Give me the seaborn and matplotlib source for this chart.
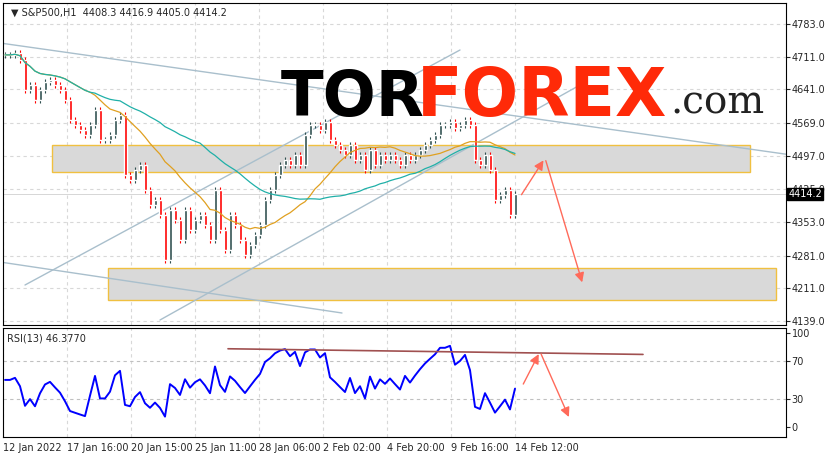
import numpy as np
import pandas as pd
import matplotlib
matplotlib.use("Agg")
import matplotlib.pyplot as plt
import seaborn as sns

closes = [4716, 4716, 4720, 4705, 4640, 4651, 4618, 4640, 4657, 4662, 4651, 4640, 4618,
          4575, 4564, 4553, 4542, 4564, 4597, 4531, 4531, 4542, 4575, 4586, 4456, 4445,
          4466, 4477, 4423, 4391, 4401, 4369, 4271, 4380, 4358, 4315, 4380, 4336, 4358,
          4369, 4347, 4315, 4423, 4336, 4293, 4369, 4347, 4315, 4282, 4304, 4326, 4347,
          4401, 4423, 4456, 4477, 4488, 4477, 4499, 4477, 4542, 4564, 4564, 4553, 4571,
          4531, 4521, 4510, 4499, 4521, 4488, 4499, 4466, 4510, 4477, 4499, 4488, 4499,
          4488, 4477, 4499, 4488, 4499, 4510, 4521, 4531, 4542, 4564, 4564, 4571, 4558,
          4564, 4575, 4564, 4488, 4477, 4499, 4466, 4401, 4412, 4423, 4369, 4414]
opens = [closes[0]] + closes[:-1]
price_ticks = [4783.0, 4711.0, 4641.0, 4569.0, 4497.0, 4425.0, 4353.0, 4281.0, 4211.0, 4139.0]
x_labels = ["12 Jan 2022", "17 Jan 16:00", "20 Jan 15:00", "25 Jan 11:00", "28 Jan 06:00",
            "2 Feb 02:00", "4 Feb 20:00", "9 Feb 16:00", "14 Feb 12:00"]
upper_zone = (4462, 4521)
lower_zone = (4185, 4254)

W, H = 827, 455
sns.set_style("white")
plt.rcParams['font.family'] = ['DejaVu Sans']
fig = plt.figure(figsize=(W/100, H/100), dpi=100)

def px2i(px):
    return (px - 5) / 5.0

def py2p(py):
    return 4783 - (py - 24) * 2.168

ax = fig.add_axes([3/W, 1-325/H, 783/W, 322/H])
ax2 = fig.add_axes([3/W, 1-437/H, 783/W, 109/H])

df = pd.DataFrame({"i": np.arange(len(closes)), "open": opens, "close": closes})
df["ma_fast"] = df["close"].rolling(18, min_periods=1).mean()
df["ma_slow"] = df["close"].rolling(40, min_periods=1).mean()
d = df["close"].diff().fillna(0)
n = 5  # 13 hourly bars ~ 5 sampled bars
gu = d.clip(lower=0).copy(); gd = (-d.clip(upper=0)).copy()
seed = d.abs().mean() / 2
gu.iloc[0] = seed; gd.iloc[0] = seed
up = gu.ewm(alpha=1/n, adjust=False).mean()
dn = gd.ewm(alpha=1/n, adjust=False).mean()
df["rsi"] = 100 * up / (up + dn)

xmin, xmax = px2i(3), px2i(786)
tick_px = [3 + 64*k for k in range(len(x_labels))]
for a in (ax, ax2):
    a.set_xlim(xmin, xmax)
    for tp in tick_px:
        a.axvline(px2i(tp), color="#d8d8d8", ls=(0, (3, 3)), lw=0.8, zorder=0)
    for s in a.spines.values():
        s.set_color("black"); s.set_linewidth(0.8)
ax.set_ylim(py2p(325), py2p(3))
for t in price_ticks:
    ax.axhline(t, color="#d8d8d8", ls=(0, (3, 3)), lw=0.8, zorder=0)

for (lo, hi), (x0, x1) in [(upper_zone, (52, 750)), (lower_zone, (108, 776))]:
    ax.add_patch(plt.Rectangle((px2i(x0), lo), px2i(x1)-px2i(x0), hi-lo,
                               facecolor="#d9d9d9", edgecolor="#f0c040", lw=1, zorder=1))
for (a_, b_) in [((0, 43), (827, 160)), ((160, 320), (580, 85)), ((25, 285), (460, 50)), ((0, 262), (342, 313))]:
    ax.plot([px2i(a_[0]), px2i(b_[0])], [py2p(a_[1]), py2p(b_[1])], color="#a9bfcc", lw=1, zorder=2)

col = np.where(df["close"] >= df["open"], "#2f4f4f", "#ff0000")
ax.vlines(df["i"], np.minimum(df["open"], df["close"]) - 6, np.maximum(df["open"], df["close"]) + 6,
          colors=col, lw=0.8, zorder=3)
ax.bar(df["i"], (df["close"] - df["open"]).where(lambda s: s.abs() > 2, 2), bottom=df["open"],
       width=0.6, color=col, zorder=3)
sns.lineplot(data=df, x="i", y="ma_fast", ax=ax, color="#e0a020", lw=0.9, zorder=4)
sns.lineplot(data=df, x="i", y="ma_slow", ax=ax, color="#20b0a8", lw=0.9, zorder=4)

arrow_kw = dict(arrowstyle="-|>", color="#ff6a5a", lw=1, mutation_scale=14)
ax.annotate("", xy=(px2i(545), py2p(158)), xytext=(px2i(520), py2p(197)), arrowprops=arrow_kw, zorder=6)
ax.annotate("", xy=(px2i(583), py2p(285)), xytext=(px2i(545), py2p(158)), arrowprops=arrow_kw, zorder=6)

ax.yaxis.tick_right()
ax.set_yticks(price_ticks)
ax.set_yticklabels([f"{t:.1f}" for t in price_ticks], fontsize=7)
ax.tick_params(axis="y", length=3, pad=1, direction="out")
ax.set_xticks([]); ax.set_xlabel(""); ax.set_ylabel("")
ax.text(0.01, 0.985, "▼ S&P500,H1  4408.3 4416.9 4405.0 4414.2",
        transform=ax.transAxes, fontsize=7, va="top", ha="left")
ax.axhline(4414.2, color="#d0d0d0", lw=0.6, zorder=0)
ax.text(1.003, 4414.2, "4414.2", transform=ax.get_yaxis_transform(), fontsize=7, va="center",
        ha="left", color="white", zorder=10, bbox=dict(facecolor="black", edgecolor="black", pad=1))

ax2.set_ylim(-10.5, 105)
for t in (30, 70):
    ax2.axhline(t, color="#c0c0c0", ls=(0, (3, 3)), lw=0.8)
sns.lineplot(data=df, x="i", y="rsi", ax=ax2, color="#0000ff", lw=1.4)
ax2.plot([px2i(228), px2i(643)], [83, 77], color="#a05050", lw=1.2)
ax2.annotate("", xy=(px2i(540), 80), xytext=(px2i(522), 43), arrowprops=arrow_kw)
ax2.annotate("", xy=(px2i(570), 8), xytext=(px2i(540), 80), arrowprops=arrow_kw)
ax2.yaxis.tick_right()
ax2.set_yticks([100, 70, 30, 0])
ax2.set_yticklabels(["100", "70", "30", "0"], fontsize=7)
ax2.tick_params(axis="y", length=3, pad=1)
ax2.set_xticks([px2i(tp) for tp in tick_px])
ax2.set_xticklabels(x_labels, fontsize=7, ha="left")
ax2.tick_params(axis="x", length=3, pad=1)
ax2.set_xlabel(""); ax2.set_ylabel("")
ax2.text(0.005, 0.95, "RSI(13) 46.3770", transform=ax2.transAxes, fontsize=7, va="top")

fig.text(281/W, 1-116/H, "TOR", fontsize=45, fontweight="black", color="black", family="DejaVu Sans")
fig.text(417/W, 1-116/H, "FOREX", fontsize=48, fontweight="black", color="#ff2a08", family="DejaVu Sans")
fig.text(670/W, 1-114/H, ".com", fontsize=28, color="#222222", family="DejaVu Serif")

fig.savefig("out.png", dpi=100)
